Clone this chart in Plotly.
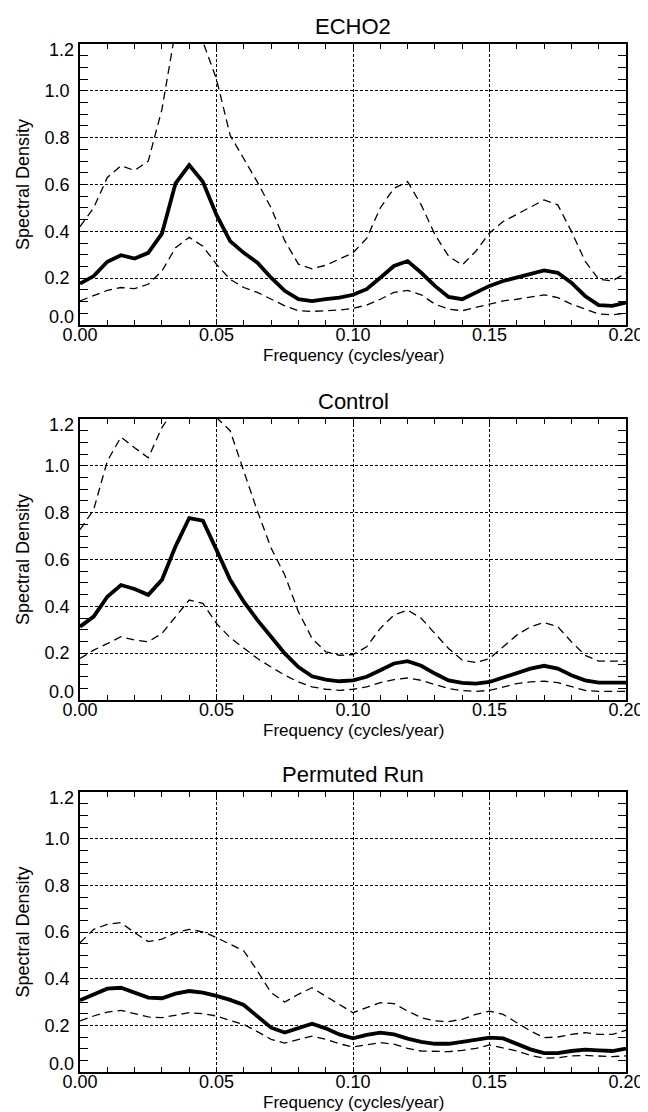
import plotly.graph_objects as go

freq = [0.000, 0.005, 0.010, 0.015, 0.020, 0.025, 0.030, 0.035, 0.040, 0.045,
        0.050, 0.055, 0.060, 0.065, 0.070, 0.075, 0.080, 0.085, 0.090, 0.095,
        0.100, 0.105, 0.110, 0.115, 0.120, 0.125, 0.130, 0.135, 0.140, 0.145,
        0.150, 0.155, 0.160, 0.165, 0.170, 0.175, 0.180, 0.185, 0.190, 0.195,
        0.200]

panel_titles = ["ECHO2", "Control", "Permuted Run"]

echo2_mid = [0.177, 0.209, 0.27, 0.298, 0.284, 0.308, 0.39, 0.605, 0.683, 0.612,
             0.47, 0.358, 0.308, 0.266, 0.202, 0.146, 0.11, 0.102, 0.11, 0.117,
             0.129, 0.153, 0.202, 0.252, 0.273, 0.223, 0.167, 0.12, 0.11, 0.139,
             0.167, 0.188, 0.202, 0.216, 0.233, 0.223, 0.181, 0.124, 0.085, 0.082,
             0.096]
echo2_hi = [0.42, 0.50, 0.63, 0.68, 0.66, 0.70, 0.92, 1.26, 1.40, 1.21,
            1.05, 0.81, 0.71, 0.61, 0.50, 0.36, 0.26, 0.24, 0.255, 0.28,
            0.308, 0.37, 0.5, 0.584, 0.612, 0.513, 0.386, 0.294, 0.256, 0.315,
            0.393, 0.442, 0.473, 0.506, 0.534, 0.513, 0.4, 0.273, 0.195, 0.188,
            0.223]
echo2_lo = [0.103, 0.124, 0.148, 0.16, 0.155, 0.174, 0.23, 0.33, 0.375, 0.336,
            0.259, 0.195, 0.16, 0.139, 0.11, 0.082, 0.061, 0.058, 0.061, 0.064,
            0.071, 0.085, 0.11, 0.139, 0.148, 0.129, 0.089, 0.068, 0.061, 0.075,
            0.089, 0.103, 0.11, 0.12, 0.129, 0.117, 0.089, 0.068, 0.047, 0.044,
            0.05]

control_mid = [0.313, 0.356, 0.441, 0.491, 0.474, 0.449, 0.513, 0.656, 0.777, 0.766,
               0.641, 0.513, 0.42, 0.341, 0.27, 0.199, 0.141, 0.101, 0.087, 0.08,
               0.084, 0.099, 0.127, 0.156, 0.166, 0.146, 0.113, 0.084, 0.073, 0.07,
               0.077, 0.096, 0.117, 0.134, 0.146, 0.134, 0.106, 0.084, 0.074, 0.074,
               0.074]
control_hi = [0.727, 0.813, 1.02, 1.123, 1.077, 1.034, 1.163, 1.25, 1.4, 1.35,
              1.206, 1.15, 0.977, 0.806, 0.649, 0.534, 0.377, 0.263, 0.206, 0.191,
              0.194, 0.227, 0.306, 0.363, 0.384, 0.349, 0.284, 0.22, 0.17, 0.16,
              0.177, 0.227, 0.277, 0.313, 0.331, 0.313, 0.249, 0.191, 0.166, 0.166,
              0.166]
control_lo = [0.177, 0.213, 0.241, 0.27, 0.256, 0.249, 0.284, 0.356, 0.427, 0.413,
              0.327, 0.266, 0.22, 0.177, 0.141, 0.106, 0.077, 0.056, 0.046, 0.041,
              0.046, 0.056, 0.074, 0.087, 0.094, 0.084, 0.066, 0.049, 0.04, 0.037,
              0.041, 0.056, 0.07, 0.077, 0.08, 0.074, 0.056, 0.041, 0.037, 0.037,
              0.037]

perm_mid = [0.307, 0.33, 0.357, 0.361, 0.34, 0.319, 0.316, 0.336, 0.347, 0.34,
            0.326, 0.309, 0.287, 0.24, 0.19, 0.169, 0.187, 0.207, 0.187, 0.161,
            0.144, 0.159, 0.169, 0.161, 0.143, 0.129, 0.121, 0.121, 0.129, 0.14,
            0.147, 0.144, 0.121, 0.097, 0.081, 0.081, 0.09, 0.096, 0.093, 0.09,
            0.1]
perm_hi = [0.554, 0.611, 0.633, 0.64, 0.597, 0.559, 0.569, 0.597, 0.611, 0.601,
           0.576, 0.547, 0.519, 0.433, 0.34, 0.3, 0.333, 0.361, 0.326, 0.29,
           0.254, 0.276, 0.297, 0.293, 0.261, 0.233, 0.219, 0.216, 0.226, 0.247,
           0.261, 0.247, 0.211, 0.176, 0.147, 0.15, 0.161, 0.169, 0.161, 0.161,
           0.179]
perm_lo = [0.219, 0.24, 0.257, 0.264, 0.25, 0.236, 0.233, 0.244, 0.254, 0.25,
           0.24, 0.221, 0.204, 0.173, 0.14, 0.124, 0.14, 0.154, 0.14, 0.121,
           0.107, 0.116, 0.126, 0.119, 0.101, 0.09, 0.087, 0.087, 0.093, 0.101,
           0.116, 0.104, 0.09, 0.071, 0.059, 0.061, 0.069, 0.071, 0.069, 0.066,
           0.069]

x_tickvals = [0.0, 0.05, 0.10, 0.15, 0.20]
x_ticktext = ["0.00", "0.05", "0.10", "0.15", "0.20"]
y_tickvals = [0.0, 0.2, 0.4, 0.6, 0.8, 1.0, 1.2]
y_ticktext = ["", "0.2", "0.4", "0.6", "0.8", "1.0", ""]
y_end_labels = [(0.0, "0.0"), (1.2, "1.2")]

x_title = "Frequency (cycles/year)"
y_title = "Spectral Density"

panels = [
    (echo2_mid, echo2_hi, echo2_lo),
    (control_mid, control_hi, control_lo),
    (perm_mid, perm_hi, perm_lo),
]

# Layout geometry (pixels)
W, H = 648, 1112
ML, MR, MT, MB = 72, 21, 36, 48
ph = H - MT - MB
tops_px = [36, 411, 784]
bots_px = [317, 692, 1064]
domains = [[(H - MB - b) / ph, (H - MB - t) / ph] for t, b in zip(tops_px, bots_px)]

FONT = "Liberation Sans, Arial, Helvetica, sans-serif"
FS = 18

fig = go.Figure()
layout = dict(
    width=W, height=H,
    margin=dict(l=ML, r=MR, t=MT, b=MB),
    paper_bgcolor="white", plot_bgcolor="white",
    showlegend=False,
    font=dict(family=FONT, color="black", size=FS),
)
annotations = []

for i, (mid, hi, lo) in enumerate(panels):
    n = "" if i == 0 else str(i + 1)
    xa, ya = "x" + n, "y" + n
    for vals, width, dash in [(hi, 1.3, "8px,5px"), (lo, 1.3, "8px,5px"), (mid, 3.8, "solid")]:
        fig.add_trace(go.Scatter(
            x=freq, y=vals, mode="lines", xaxis=xa, yaxis=ya,
            line=dict(color="black", width=width, dash=dash),
            hoverinfo="skip",
        ))
    layout["xaxis" + n] = dict(
        domain=[0, 1], anchor=ya, range=[0, 0.2],
        tickmode="array", tickvals=x_tickvals, ticktext=x_ticktext,
        ticks="inside", ticklen=5, tickwidth=1.2, tickcolor="black",
        showline=True, linecolor="black", linewidth=1.6, mirror="ticks",
        showgrid=True, gridcolor="black", gridwidth=1.4, griddash="3px,2px",
        zeroline=False,
        minor=dict(ticks="inside", dtick=0.01, tick0=0, ticklen=5, tickwidth=1.2,
                   tickcolor="black", showgrid=False),
        tickfont=dict(size=FS, family=FONT, color="black"),
        ticklabelstandoff=-7,
    )
    layout["yaxis" + n] = dict(
        domain=domains[i], anchor=xa, range=[0, 1.2],
        tickmode="array", tickvals=y_tickvals, ticktext=y_ticktext,
        ticks="inside", ticklen=8, tickwidth=1.2, tickcolor="black",
        showline=True, linecolor="black", linewidth=1.6, mirror="ticks",
        showgrid=True, gridcolor="black", gridwidth=1.4, griddash="3px,2px",
        zeroline=False,
        minor=dict(ticks="inside", dtick=0.05, tick0=0, ticklen=8, tickwidth=1.2,
                   tickcolor="black", showgrid=False),
        tickfont=dict(size=FS, family=FONT, color="black"),
        ticklabelstandoff=5,
        title=dict(text=y_title, font=dict(size=FS, family=FONT, color="black"), standoff=10),
    )
    # end labels of the y axis, nudged inward as in the reference
    for val, txt in y_end_labels:
        annotations.append(dict(
            text=txt, xref=xa + " domain", x=0, yref=ya, y=val,
            xanchor="right", yanchor="middle", xshift=-4,
            yshift=8 if val == 0.0 else -6, showarrow=False,
            font=dict(size=FS, family=FONT, color="black"),
        ))
    # x-axis title
    annotations.append(dict(
        text=x_title, x=0.5, xref="x" + n + " domain", y=0, yref=ya + " domain",
        xanchor="center", yanchor="top", yshift=-20, borderpad=0, showarrow=False,
        font=dict(size=17, family=FONT, color="black"),
    ))
    # panel title
    annotations.append(dict(
        text=panel_titles[i], x=0.5, xref="paper", y=domains[i][1], yref="paper",
        xanchor="center", yanchor="bottom", yshift=3, showarrow=False,
        font=dict(size=22, family=FONT, color="black"),
    ))

layout["annotations"] = annotations
fig.update_layout(**layout)
fig.write_html("out.html")
